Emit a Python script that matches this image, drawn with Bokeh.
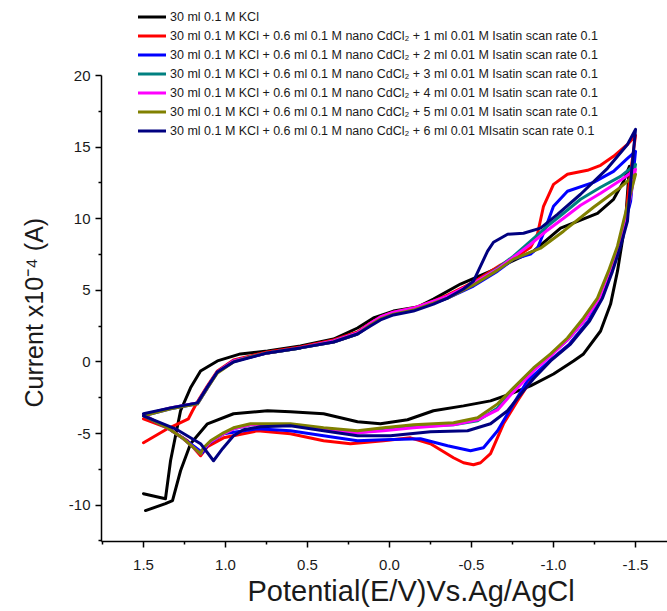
from bokeh.plotting import figure
from bokeh.models import Range1d, FixedTicker, Legend, LegendItem, Title
from bokeh.embed import file_html
from bokeh.resources import INLINE

# ---- data ----
series_labels = [
    "30 ml 0.1 M KCl",
    "30 ml 0.1 M KCl + 0.6 ml 0.1 M nano CdCl\u2082 + 1 ml 0.01 M Isatin scan rate 0.1",
    "30 ml 0.1 M KCl + 0.6 ml 0.1 M nano CdCl\u2082 + 2 ml 0.01 M Isatin scan rate 0.1",
    "30 ml 0.1 M KCl + 0.6 ml 0.1 M nano CdCl\u2082 + 3 ml 0.01 M Isatin scan rate 0.1",
    "30 ml 0.1 M KCl + 0.6 ml 0.1 M nano CdCl\u2082 + 4 ml 0.01 M Isatin scan rate 0.1",
    "30 ml 0.1 M KCl + 0.6 ml 0.1 M nano CdCl\u2082 + 5 ml 0.01 M Isatin scan rate 0.1",
    "30 ml 0.1 M KCl + 0.6 ml 0.1 M nano CdCl\u2082 + 6 ml 0.01 MIsatin scan rate 0.1",
]
series_colors = ["#000000", "#ff0000", "#0000ff", "#008080", "#ff00ff", "#808000", "#000080"]

kcl_x = [1.488, 1.366, 1.323, 1.274, 1.213, 1.110, 0.951, 0.744, 0.604, 0.402, 0.195, 0.055, -0.110, -0.268,
         -0.451, -0.616, -0.738, -0.860, -1.000, -1.122, -1.183, -1.287, -1.348, -1.390, -1.439, -1.463,
         -1.427, -1.366, -1.268, -1.043, -0.878, -0.659, -0.433, -0.268, -0.171, -0.024, 0.098, 0.195,
         0.341, 0.543, 0.744, 0.909, 1.049, 1.152, 1.213, 1.274, 1.335, 1.366, 1.500]
kcl_y = [-10.38, -9.90, -9.69, -7.60, -5.71, -4.32, -3.62, -3.41, -3.48, -3.62, -4.18, -4.32, -4.04, -3.41,
         -3.07, -2.72, -2.23, -1.67, -0.84, 0.07, 0.56, 2.16, 4.04, 6.34, 9.83, 13.66,
         12.61, 11.36, 10.38, 9.34, 7.74, 6.55, 5.44, 4.39, 3.83, 3.55, 3.07, 2.37,
         1.60, 1.11, 0.77, 0.56, 0.07, -0.63, -1.81, -3.41, -6.90, -9.55, -9.20]

is1_x = [1.500, 1.354, 1.226, 1.201, 1.171, 1.110, 1.049, 0.951, 0.848, 0.744, 0.543, 0.341, 0.195, 0.116,
         0.055, -0.024, -0.146, -0.268, -0.354, -0.512, -0.677, -0.799, -0.860, -0.902, -0.939, -1.000,
         -1.085, -1.207, -1.287, -1.366, -1.451, -1.500, -1.463, -1.439, -1.402, -1.354, -1.293, -1.213,
         -1.098, -0.976, -0.860, -0.780, -0.695, -0.616, -0.555, -0.512, -0.451, -0.390, -0.250, -0.128,
         0.037, 0.238, 0.402, 0.604, 0.805, 1.012, 1.110, 1.152, 1.232, 1.354, 1.500]
is1_y = [-5.64, -4.67, -3.97, -3.41, -2.79, -1.67, -0.63, 0.14, 0.42, 0.70, 1.05, 1.53, 2.09, 2.72,
         3.14, 3.48, 3.76, 4.25, 4.67, 5.57, 6.76, 7.53, 8.01, 8.92, 10.87, 12.40,
         13.10, 13.38, 13.73, 14.36, 15.19, 15.82, 12.61, 9.83, 8.08, 6.34, 4.46, 2.86,
         1.25, 0.07, -1.32, -2.72, -4.32, -6.41, -7.04, -7.18, -7.04, -6.69, -5.71, -5.30,
         -5.51, -5.71, -5.51, -5.02, -4.81, -5.30, -5.92, -6.55, -5.51, -4.60, -3.97]

is2_x = [1.500, 1.335, 1.171, 1.152, 1.110, 1.049, 0.951, 0.744, 0.543, 0.341, 0.195, 0.116, 0.055, -0.024,
         -0.146, -0.268, -0.354, -0.512, -0.659, -0.756, -0.860, -0.902, -0.939, -1.000, -1.085, -1.244,
         -1.366, -1.451, -1.500, -1.470, -1.439, -1.402, -1.354, -1.293, -1.213, -1.098, -0.976, -0.841,
         -0.756, -0.659, -0.573, -0.494, -0.354, -0.189, 0.037, 0.195, 0.402, 0.604, 0.805, 1.012,
         1.104, 1.140, 1.244, 1.354, 1.500]
is2_y = [-3.76, -3.28, -2.93, -2.58, -1.81, -0.70, 0.07, 0.63, 0.98, 1.39, 1.95, 2.58, 3.00, 3.34,
         3.62, 4.11, 4.46, 5.30, 6.34, 7.18, 7.53, 7.94, 8.99, 10.87, 11.92, 12.54,
         13.31, 14.22, 14.70, 11.22, 9.83, 8.08, 6.34, 4.46, 2.86, 1.25, 0.07, -1.32,
         -2.93, -4.81, -5.99, -6.20, -5.85, -5.37, -5.44, -5.51, -5.16, -4.81, -4.67, -5.02,
         -5.71, -6.34, -5.44, -4.60, -3.76]

is3_x = [1.152, 1.256, 1.354, 1.500, 1.335, 1.171, 1.152, 1.110, 1.049, 0.951, 0.744, 0.543, 0.341, 0.195,
         0.116, 0.055, -0.024, -0.146, -0.268, -0.354, -0.512, -0.659, -0.756, -0.860, -0.963, -1.061,
         -1.165, -1.287, -1.409, -1.500, -1.463, -1.433, -1.396, -1.341, -1.280, -1.195, -1.091, -0.982,
         -0.878, -0.756, -0.659, -0.537, -0.390, -0.146, 0.037, 0.195, 0.402, 0.604, 0.848, 0.951,
         1.012, 1.091, 1.134, 1.152]
is3_y = [-6.41, -5.37, -4.60, -3.69, -3.21, -2.86, -2.51, -1.74, -0.70, 0.07, 0.63, 0.98, 1.46, 2.02,
         2.65, 3.07, 3.41, 3.69, 4.18, 4.53, 5.44, 6.55, 7.39, 8.43, 9.48, 10.38,
         11.36, 12.20, 12.96, 13.80, 11.22, 9.83, 8.08, 6.34, 4.46, 3.00, 1.60, 0.49,
         -0.56, -2.02, -3.21, -4.11, -4.39, -4.53, -4.74, -4.95, -4.74, -4.39, -4.39, -4.67,
         -5.02, -5.57, -6.06, -6.41]

is4_x = [1.152, 1.256, 1.354, 1.500, 1.335, 1.171, 1.152, 1.110, 1.049, 0.951, 0.744, 0.543, 0.341, 0.195,
         0.116, 0.055, -0.024, -0.146, -0.268, -0.354, -0.512, -0.659, -0.756, -0.860, -0.963, -1.061,
         -1.165, -1.287, -1.409, -1.500, -1.463, -1.433, -1.396, -1.341, -1.280, -1.195, -1.091, -0.982,
         -0.878, -0.756, -0.659, -0.537, -0.390, -0.146, 0.037, 0.195, 0.402, 0.604, 0.848, 0.951,
         1.012, 1.091, 1.134, 1.152]
is4_y = [-6.41, -5.37, -4.60, -3.69, -3.21, -2.86, -2.51, -1.74, -0.70, 0.07, 0.63, 1.00, 1.46, 2.02,
         2.70, 3.14, 3.48, 3.76, 4.25, 4.60, 5.50, 6.48, 7.32, 8.22, 9.20, 10.03,
         10.94, 11.78, 12.68, 13.45, 11.22, 9.83, 8.08, 6.34, 4.46, 3.00, 1.60, 0.42,
         -0.63, -2.09, -3.35, -4.04, -4.39, -4.60, -4.81, -4.95, -4.74, -4.39, -4.39, -4.67,
         -5.02, -5.57, -6.06, -6.41]

is5_x = [1.152, 1.256, 1.354, 1.500, 1.335, 1.171, 1.152, 1.110, 1.049, 0.951, 0.848, 0.744, 0.543, 0.341,
         0.195, 0.116, 0.055, -0.024, -0.146, -0.268, -0.354, -0.512, -0.659, -0.756, -0.921, -1.061,
         -1.244, -1.409, -1.500, -1.457, -1.427, -1.390, -1.335, -1.268, -1.183, -1.085, -0.982, -0.878,
         -0.756, -0.659, -0.537, -0.390, -0.146, 0.037, 0.195, 0.402, 0.604, 0.848, 0.951, 1.012,
         1.091, 1.134, 1.152]
is5_y = [-6.41, -5.37, -4.60, -3.76, -3.28, -2.93, -2.58, -1.81, -0.77, 0.00, 0.35, 0.63, 0.98, 1.39,
         1.95, 2.58, 3.00, 3.34, 3.62, 4.11, 4.46, 5.37, 6.41, 7.18, 7.94, 9.13,
         10.80, 12.20, 13.10, 11.22, 9.83, 8.08, 6.34, 4.46, 3.07, 1.67, 0.56, -0.42,
         -1.81, -2.93, -3.90, -4.25, -4.39, -4.60, -4.81, -4.60, -4.32, -4.32, -4.60, -4.95,
         -5.51, -5.99, -6.41]

is6_x = [1.500, 1.335, 1.171, 1.152, 1.110, 1.049, 0.951, 0.744, 0.543, 0.341, 0.195, 0.116, 0.055, -0.024,
         -0.146, -0.268, -0.354, -0.451, -0.512, -0.555, -0.598, -0.634, -0.720, -0.817, -0.921, -1.024,
         -1.165, -1.329, -1.451, -1.500, -1.476, -1.451, -1.409, -1.360, -1.299, -1.220, -1.104, -0.982,
         -0.878, -0.817, -0.720, -0.616, -0.476, -0.250, -0.006, 0.195, 0.402, 0.604, 0.787, 0.890,
         0.951, 1.018, 1.073, 1.152, 1.305, 1.500]
is6_y = [-3.62, -3.21, -2.86, -2.51, -1.74, -0.70, 0.00, 0.63, 0.98, 1.39, 1.95, 2.51, 2.93, 3.28,
         3.55, 4.04, 4.46, 5.09, 5.64, 6.69, 7.74, 8.36, 8.92, 8.99, 9.34, 10.31,
         11.71, 13.52, 15.19, 16.24, 13.31, 9.83, 8.08, 6.34, 4.46, 2.86, 1.25, 0.07,
         -1.18, -2.02, -3.41, -4.32, -4.81, -4.88, -5.16, -5.16, -4.81, -4.46, -4.53, -4.74,
         -5.16, -6.06, -6.90, -5.71, -4.67, -3.76]

series_x = [kcl_x, is1_x, is2_x, is3_x, is4_x, is5_x, is6_x]
series_y = [kcl_y, is1_y, is2_y, is3_y, is4_y, is5_y, is6_y]

x_ticks = [1.5, 1.0, 0.5, 0.0, -0.5, -1.0, -1.5]
x_tick_labels = ["1.5", "1.0", "0.5", "0.0", "-0.5", "-1.0", "-1.5"]
x_minor_ticks = [1.75, 1.25, 0.75, 0.25, -0.25, -0.75, -1.25]
y_ticks = [-10, -5, 0, 5, 10, 15, 20]
y_tick_labels = ["-10", "-5", "0", "5", "10", "15", "20"]
y_minor_ticks = [-12.5, -7.5, -2.5, 2.5, 7.5, 12.5, 17.5]

FONT = "Liberation Sans"

# frame spans the full height above the x axis so the legend (drawn in the frame) is not clipped;
# the y axis line itself stops at 20 as in the reference
p = figure(width=667, height=611, output_backend="svg", toolbar_location=None,
           x_range=Range1d(1.756, -1.695), y_range=Range1d(-12.54, 25.24),
           min_border_left=101, min_border_right=0, min_border_top=0, min_border_bottom=70,
           background_fill_color="white", border_fill_color="white")
p.outline_line_color = None
p.xgrid.grid_line_color = None
p.ygrid.grid_line_color = None

renderers = []
for xs, ys, c in zip(series_x, series_y, series_colors):
    r = p.line(xs, ys, line_color=c, line_width=3, line_join="round", line_cap="round")
    renderers.append(r)

for ax in (p.xaxis[0], p.yaxis[0]):
    ax.axis_line_width = 1.5
    ax.axis_line_color = "black"
    ax.major_tick_line_width = 1.5
    ax.minor_tick_line_width = 1.5
    ax.major_tick_line_color = "black"
    ax.minor_tick_line_color = "black"
    ax.major_tick_in = 0
    ax.major_tick_out = 6
    ax.minor_tick_in = 0
    ax.minor_tick_out = 3
    ax.major_label_text_font = FONT
    ax.major_label_text_font_size = "15px"
    ax.major_label_text_color = "#1a1a1a"

p.xaxis.ticker = FixedTicker(ticks=x_ticks, minor_ticks=x_minor_ticks)
p.xaxis.major_label_overrides = dict(zip(x_ticks, x_tick_labels))
p.xaxis.major_label_standoff = 12
p.yaxis.ticker = FixedTicker(ticks=y_ticks, minor_ticks=y_minor_ticks)
p.yaxis.major_label_overrides = dict(zip(y_ticks, y_tick_labels))
p.yaxis.major_label_standoff = 5
p.yaxis.bounds = (-12.54, 20)

ylabel = Title(text="Current x10\u207b\u2074 (A)", align="left", offset=134,
               vertical_align="middle", text_font=FONT, text_font_size="25px",
               text_font_style="normal", text_color="#1a1a1a", standoff=34)
p.add_layout(ylabel, "left")

xlabel = Title(text="Potential(E/V)Vs.Ag/AgCl", align="left", offset=146,
               text_font=FONT, text_font_size="29px", text_font_style="normal",
               text_color="#1a1a1a", standoff=0)
p.add_layout(xlabel, "below")

items = [LegendItem(label=lab, renderers=[r]) for lab, r in zip(series_labels, renderers)]
legend = Legend(items=items, location=(37, 401), orientation="vertical",
                padding=0, margin=0, spacing=0, label_height=19, glyph_height=19,
                glyph_width=28, label_standoff=4, border_line_color=None,
                background_fill_alpha=0, label_text_font=FONT,
                label_text_font_size="12.5px", label_text_color="#1a1a1a")
p.add_layout(legend)

open("out.html", "w").write(file_html(p, INLINE))
